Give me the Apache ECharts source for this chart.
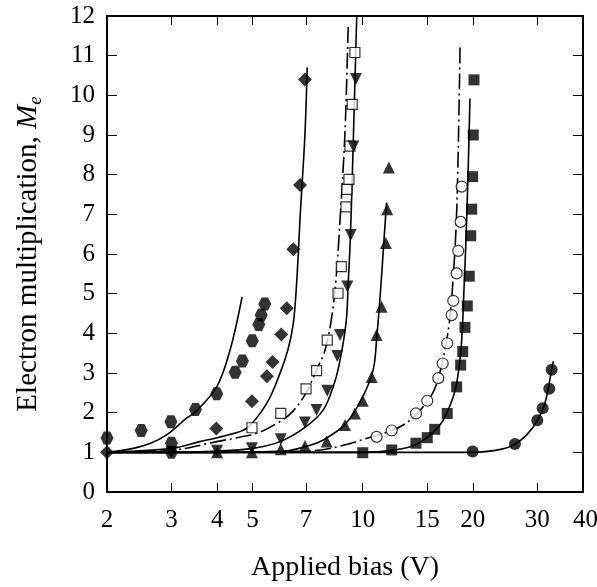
<!DOCTYPE html>
<html>
<head>
<meta charset="utf-8">
<script src="https://cdn.jsdelivr.net/npm/echarts@6/dist/echarts.min.js"></script>
<style>
  html, body { margin: 0; padding: 0; background: #fff; }
  #chart { width: 597px; height: 587px; }
</style>
</head>
<body>
<div id="chart"></div>
<script>
// Axis ticks
const xTicks = [2, 3, 4, 5, 7, 10, 15, 20, 30, 40];
const yMin = 0, yMax = 12, yStep = 1;

// Measured points: applied bias (V) and electron multiplication Me
const hexV = [2, 2.48, 2.99, 3.49, 3.99, 4.48, 4.69, 4.99, 5.2, 5.28, 5.4];
const hexM = [1.36, 1.55, 1.77, 2.08, 2.48, 3.02, 3.30, 3.81, 4.22, 4.46, 4.74];

const lowDotV = [3, 3];
const lowDotM = [1.0, 1.23];

const diamondV = [2, 3.98, 4.98, 5.47, 5.67, 5.99, 6.2, 6.46, 6.74, 6.95];
const diamondM = [1.0, 1.6, 2.29, 2.92, 3.28, 3.97, 4.63, 6.12, 7.74, 10.40];

const openSqV = [4.98, 5.97, 7.0, 7.48, 8.0, 8.56, 8.74, 9.0, 9.05, 9.17, 9.23, 9.36, 9.52];
const openSqM = [1.62, 1.98, 2.6, 3.06, 3.83, 5.01, 5.68, 7.19, 7.63, 7.88, 8.72, 9.77, 11.08];

const invTriV = [3, 4, 4.98, 5.97, 6.95, 7.48, 8.0, 8.52, 8.67, 9.08, 9.27, 9.43, 9.58];
const invTriM = [1.0, 1.04, 1.1, 1.33, 1.75, 2.07, 2.55, 3.43, 3.96, 5.18, 6.48, 8.71, 10.41];

const triV = [4, 4.98, 5.97, 6.95, 7.97, 8.94, 9.52, 10.0, 10.58, 10.91, 11.26, 11.57, 11.67, 11.79];
const triM = [1.0, 1.0, 1.08, 1.16, 1.27, 1.69, 1.98, 2.30, 2.90, 3.96, 4.67, 6.28, 7.13, 8.18];

const openCircV = [10.91, 12.0, 13.98, 15.01, 16.09, 16.54, 17.02, 17.5, 17.68, 18.06, 18.24, 18.52, 18.64];
const openCircM = [1.39, 1.55, 1.98, 2.30, 2.87, 3.24, 3.75, 4.46, 4.82, 5.51, 6.08, 6.81, 7.70];

const fillSqV = [10.0, 12.0, 13.98, 15.01, 15.73, 17.02, 18.06, 18.52, 18.76, 19.03, 19.31, 19.55, 19.73, 19.85, 19.97, 20.05, 20.14];
const fillSqM = [0.99, 1.06, 1.23, 1.37, 1.58, 1.98, 2.65, 3.20, 3.54, 4.15, 4.69, 5.44, 6.46, 7.13, 7.95, 9.0, 10.39];

const fillCircV = [19.97, 26.06, 30.0, 31.03, 32.35, 32.84];
const fillCircM = [1.02, 1.21, 1.81, 2.11, 2.60, 3.08];

// Model curves
const fitHexV = [2, 2.36, 2.62, 2.91, 3.3, 3.49, 3.99, 4.34, 4.68];
const fitHexM = [1.0, 1.10, 1.22, 1.44, 1.86, 2.02, 2.65, 3.58, 4.92];

const fitDiamondV = [2, 3, 3.59, 4.2, 4.82, 5.47, 5.94, 6.25, 6.46, 6.6, 6.75, 6.95, 7.05];
const fitDiamondM = [1.0, 1.1, 1.27, 1.42, 1.61, 2.24, 2.99, 3.6, 4.25, 5.3, 7.0, 9.0, 10.7];

const fitOpenSqV = [2, 3, 3.99, 4.6, 5.2, 5.8, 6.39, 7.0, 7.48, 7.89, 8.23, 8.45, 8.67, 8.94, 9.13];
const fitOpenSqM = [1.0, 1.05, 1.27, 1.38, 1.50, 1.72, 2.0, 2.5, 3.08, 3.58, 4.42, 5.34, 6.86, 9.04, 11.81];

const fitInvTriV = [2, 3, 4, 5, 5.94, 7.0, 7.8, 8.3, 8.6, 9.0, 9.13, 9.25, 9.4, 9.63];
const fitInvTriM = [1.0, 1.0, 1.03, 1.1, 1.27, 1.65, 2.07, 2.65, 3.16, 4.25, 5.3, 6.4, 8.5, 12.0];

const fitTriV = [2, 3, 4, 5, 6.1, 7.0, 7.8, 9.0, 10.0, 10.68, 10.91, 11.19, 11.43, 11.62];
const fitTriM = [1.0, 1.0, 1.0, 1.01, 1.03, 1.15, 1.31, 1.73, 2.40, 3.08, 3.83, 5.09, 6.35, 7.3];

const fitOpenCircV = [2, 4, 6, 7.68, 8.85, 10.5, 12.0, 12.9, 14.0, 15.43, 16.1, 16.9, 17.31, 17.7, 18.0, 18.2, 18.46];
const fitOpenCircM = [1.0, 1.0, 1.02, 1.06, 1.18, 1.38, 1.55, 1.69, 1.95, 2.45, 2.87, 3.75, 4.4, 5.5, 6.7, 8.2, 11.31];

const fitFillSqV = [2, 5, 10, 12, 14, 16.26, 17.68, 18.24, 18.64, 18.91, 19.15, 19.4, 19.64];
const fitFillSqM = [1.0, 1.0, 1.0, 1.05, 1.2, 1.69, 2.40, 2.99, 3.83, 5.09, 6.35, 8.0, 9.92];

const fitFillCircV = [2, 10, 20, 24, 26, 28.05, 30, 31.5, 32.84, 33.2];
const fitFillCircM = [1.0, 1.0, 1.0, 1.08, 1.2, 1.44, 1.8, 2.25, 3.08, 3.3];

const FONT = 'Liberation Serif';
const pairs = (xs, ys) => xs.map((x, i) => [x, ys[i]]);

const hexagon = 'path://M-1,0L-0.5,-0.866L0.5,-0.866L1,0L0.5,0.866L-0.5,0.866Z';

function curve(xs, ys, dashed) {
  return {
    type: 'line',
    data: pairs(xs, ys),
    symbol: 'none',
    smooth: 0.35,
    z: 2,
    silent: true,
    lineStyle: { color: '#000', width: 1.6, type: dashed ? [16, 4, 2, 4] : 'solid' }
  };
}

function marks(xs, ys, symbol, size, open, rotate) {
  return {
    type: 'scatter',
    data: pairs(xs, ys),
    symbol: symbol,
    symbolSize: size,
    symbolRotate: rotate || 0,
    z: 5,
    itemStyle: open
      ? { color: '#fff', borderColor: '#000', borderWidth: 1.2 }
      : { color: '#000', borderColor: '#000', borderWidth: 0 }
  };
}

const xCommon = {
  type: 'log',
  logBase: 10,
  min: 2,
  max: 40,
  splitLine: { show: false },
  minorTick: { show: false },
  axisLine: { show: true, onZero: false, lineStyle: { color: '#000', width: 2 } },
  axisTick: { show: true, inside: true, length: 9, customValues: xTicks, lineStyle: { color: '#000', width: 1 } }
};

const yCommon = {
  type: 'value',
  min: yMin,
  max: yMax,
  interval: yStep,
  splitLine: { show: false },
  axisLine: { show: true, onZero: false, lineStyle: { color: '#000', width: 2 } },
  axisTick: { show: true, inside: true, length: 10, lineStyle: { color: '#000', width: 1 } }
};

const lastTick = xTicks[xTicks.length - 1];

const option = {
  animation: false,
  backgroundColor: '#fff',
  grid: { left: 107, right: 14, top: 16, bottom: 95, outerBoundsMode: 'none', containLabel: false },
  xAxis: [
    Object.assign({}, xCommon, {
      position: 'bottom',
      axisLabel: {
        customValues: xTicks,
        // the end label sits centred under the right frame edge
        formatter: v => {
          const t = String(Math.round(v));
          return Math.round(v) === lastTick ? '{end|' + t + '}' : t;
        },
        rich: { end: { fontFamily: FONT, fontSize: 25, color: '#000', padding: [0, 0, 0, 5] } },
        fontFamily: FONT, fontSize: 25, color: '#000', margin: 16
      },
      name: 'Applied bias (V)',
      nameLocation: 'middle',
      nameGap: 62,
      nameTextStyle: { fontFamily: FONT, fontSize: 28, color: '#000' }
    }),
    Object.assign({}, xCommon, {
      position: 'top',
      axisLabel: { show: false }
    })
  ],
  yAxis: [
    Object.assign({}, yCommon, {
      position: 'left',
      axisLabel: { fontFamily: FONT, fontSize: 25, color: '#000', margin: 12 },
      name: '{a|Electron multiplication, }{m|M}{s|e}',
      nameLocation: 'middle',
      nameRotate: 90,
      nameGap: 62,
      nameTextStyle: {
        fontFamily: FONT, fontSize: 29, color: '#000',
        rich: {
          a: { fontFamily: FONT, fontSize: 29, color: '#000', lineHeight: 34 },
          m: { fontFamily: FONT, fontSize: 29, color: '#000', fontStyle: 'italic', lineHeight: 34 },
          s: { fontFamily: FONT, fontSize: 19, color: '#000', fontStyle: 'italic', lineHeight: 14, verticalAlign: 'bottom' }
        }
      }
    }),
    Object.assign({}, yCommon, {
      position: 'right',
      axisLabel: { show: false }
    })
  ],
  series: [
    curve(fitHexV, fitHexM, false),
    curve(fitDiamondV, fitDiamondM, false),
    curve(fitOpenSqV, fitOpenSqM, true),
    curve(fitInvTriV, fitInvTriM, false),
    curve(fitTriV, fitTriM, false),
    curve(fitOpenCircV, fitOpenCircM, true),
    curve(fitFillSqV, fitFillSqM, false),
    curve(fitFillCircV, fitFillCircM, false),
    marks(openSqV, openSqM, 'rect', 10, true),
    marks(openCircV, openCircM, 'circle', 11, true),
    marks(hexV, hexM, hexagon, 13, false),
    marks(lowDotV, lowDotM, hexagon, 13, false),
    marks(diamondV, diamondM, 'diamond', 14, false),
    marks(invTriV, invTriM, 'triangle', 12, false, 180),
    marks(triV, triM, 'triangle', 12, false),
    marks(fillSqV, fillSqM, 'rect', 11, false),
    marks(fillCircV, fillCircM, 'circle', 12, false)
  ]
};

const chart = echarts.init(document.getElementById('chart'), null, { renderer: 'canvas' });
chart.setOption(option);
</script>
</body>
</html>
